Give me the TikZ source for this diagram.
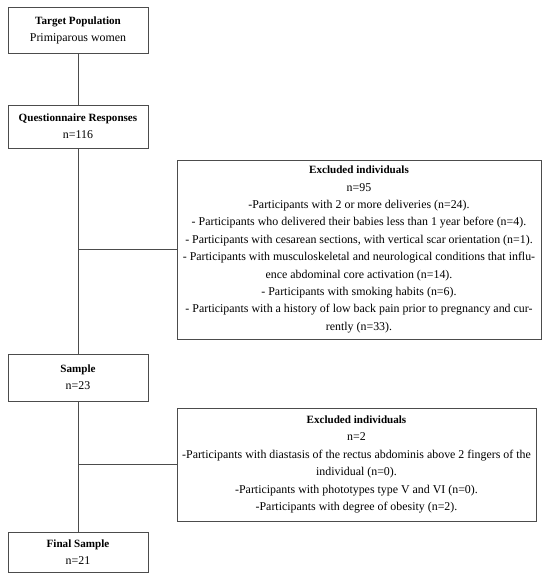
\documentclass[tikz,border=0pt]{standalone}
\usepackage{fontspec}
\setmainfont{Liberation Serif}
\newcommand{\hd}[1]{{\fontsize{11.1}{17.4}\selectfont\bfseries #1}}
\begin{document}
\begin{tikzpicture}[x=1pt,y=-1pt,
  box/.style={draw=black!70, line width=1pt, align=center, inner sep=1pt,
    font=\fontsize{11.9}{17.4}\selectfont},
  conn/.style={draw=black!70, line width=1pt}]
\useasboundingbox (0,0) rectangle (550,581);
\node[box, minimum width=140pt, minimum height=46pt] (b1) at (78,30.5)
  {\hd{Target Population}\\Primiparous women};
\node[box, minimum width=140pt, minimum height=43pt] (b2) at (78,126.5)
  {\hd{Questionnaire Responses}\\n=116};
\node[box, minimum width=140pt, minimum height=47pt] (sample) at (78,377.5)
  {\hd{Sample}\\n=23};
\node[box, minimum width=140pt, minimum height=40pt] (final) at (78,552)
  {\hd{Final Sample}\\n=21};
\node[box, minimum width=364pt, minimum height=179pt] (excl1) at (359,249.5)
  {\hd{Excluded individuals}\\
   n=95\\
   -Participants with 2 or more deliveries (n=24).\\
   - Participants who delivered their babies less than 1 year before (n=4).\\
   - Participants with cesarean sections, with vertical scar orientation (n=1).\\
   - Participants with musculoskeletal and neurological conditions that influ-\\
   ence abdominal core activation (n=14).\\
   - Participants with smoking habits (n=6).\\
   - Participants with a history of low back pain prior to pregnancy and cur-\\
   rently (n=33).};
\node[box, minimum width=359pt, minimum height=113pt] (excl2) at (356.5,464.5)
  {\hd{Excluded individuals}\\
   n=2\\
   -Participants with diastasis of the rectus abdominis above 2 fingers of the\\
   individual (n=0).\\
   -Participants with phototypes type V and VI (n=0).\\
   -Participants with degree of obesity (n=2).};
\draw[conn] (b1) -- (b2);
\draw[conn] (b2) -- (sample);
\draw[conn] (sample) -- (final);
\draw[conn] (excl1.west) -- (excl1.west -| b2.south);
\draw[conn] (excl2.west) -- (excl2.west -| sample.south);
\end{tikzpicture}
\end{document}
